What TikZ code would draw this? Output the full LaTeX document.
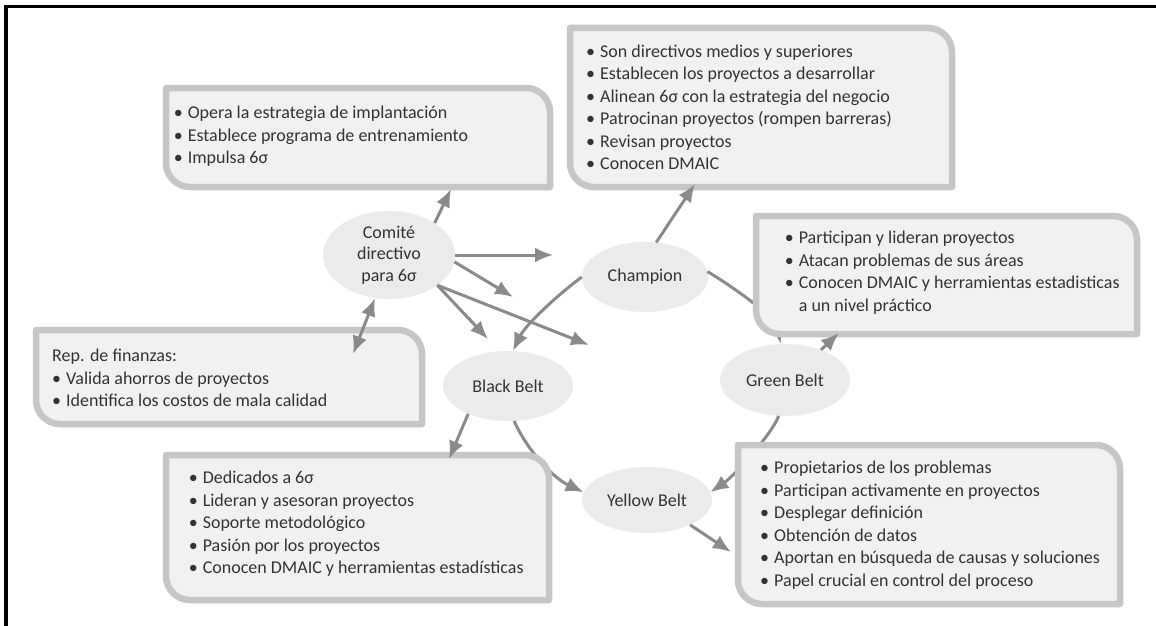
\documentclass[tikz,border=0pt]{standalone}
\usepackage{fontspec}
\setmainfont{Carlito}
\usetikzlibrary{arrows.meta,shapes.geometric,calc}

\definecolor{boxfill}{HTML}{F1F1F1}
\definecolor{boxline}{HTML}{C6C6C6}
\definecolor{ovalfill}{HTML}{EBEBEB}
\definecolor{arrowc}{HTML}{8A8A8A}
\definecolor{ink}{HTML}{333333}

% bullet followed by the item text
\newcommand\itm{\makebox[14pt][l]{•}}
% corner radius of the info boxes
\newcommand\boxr{24}

% info box: rounded top-right and bottom-left corners
\newcommand\infobox[5]{%
  \node[boxarea, minimum width={(#4)-(#2)}, minimum height={(#5)-(#3)}]
    (#1) at ({((#2)+(#4))/2},{((#3)+(#5))/2}) {};
  \draw[boxframe] (#1.north west) -- ($(#1.north east)+(-\boxr,0)$)
    arc[start angle=-90,end angle=0,radius=\boxr] -- (#1.south east)
    -- ($(#1.south west)+(\boxr,0)$)
    arc[start angle=90,end angle=180,radius=\boxr] -- cycle;}

\tikzset{
  boxarea/.style={rectangle, draw=none, inner sep=0pt, outer sep=0pt},
  boxframe/.style={draw=boxline, fill=boxfill, line width=6.5pt, line join=round},
  textblock/.style={anchor=north west, inner sep=0pt, align=left, text=ink,
    font=\fontsize{18}{22.5}\selectfont},
  oval/.style={ellipse, fill=ovalfill, draw=none, inner sep=0pt, text=ink,
    font=\fontsize{18}{21.5}\selectfont, align=center},
  conn/.style={draw=arrowc, line width=3pt, ->},
  >={Latex[length=18pt,width=15pt]},
}

\begin{document}
\begin{tikzpicture}[x=1pt,y=-1pt]
\useasboundingbox (0,0) rectangle (1156,626);
\fill[white] (0,0) rectangle (1156,626);

% frame along the top and left edges
\draw[line width=3.5pt, black, line join=miter] (6,626) -- (6,6.5) -- (1156,6.5);

% roles
\node[oval, minimum width=132pt, minimum height=88pt] (comite) at (389,255) {Comité\\directivo\\para 6σ};
\node[oval, minimum width=126pt, minimum height=70pt] (champ) at (645,277) {Champion};
\node[oval, minimum width=130pt, minimum height=70pt] (black) at (508,386) {Black Belt};
\node[oval, minimum width=130pt, minimum height=72pt] (green) at (785,380) {Green Belt};
\node[oval, minimum width=130pt, minimum height=66pt] (yellow) at (647,500) {Yellow Belt};

% curved links that run behind the boxes
\draw[conn] (champ.5) .. controls (735,288) and (776,318) .. (green.97);
\draw[conn] (black.-80) .. controls (527,450) and (553,478) .. (yellow.173);
\draw[conn] (green.-100) .. controls (772,434) and (734,476) .. (yellow.7);

% info boxes
\infobox{b1}{166}{88}{550}{187}
\node[textblock] (t1) at (173.6,106) {\itm Opera la estrategia de implantación\\
  \itm Establece programa de entrenamiento\\
  \itm Impulsa 6σ};

\infobox{b2}{570}{28}{952}{187}
\node[textblock] (t2) at (586,44.5) {\itm Son directivos medios y superiores\\
  \itm Establecen los proyectos a desarrollar\\
  \itm Alinean 6σ con la estrategia del negocio\\
  \itm Patrocinan proyectos (rompen barreras)\\
  \itm Revisan proyectos\\
  \itm Conocen DMAIC};

\infobox{b3}{756}{216}{1137}{334}
\node[textblock] (t3) at (784.6,231) {\itm Participan y lideran proyectos\\
  \itm Atacan problemas de sus áreas\\
  \itm Conocen DMAIC y herramientas estadisticas\\
  \hspace*{14pt}a un nivel práctico};

\infobox{b4}{36}{330}{422}{424}
\node[textblock] (t4) at (52,349) {Rep. de finanzas:\\
  \itm Valida ahorros de proyectos\\
  \itm Identifica los costos de mala calidad};

\infobox{b5}{166}{455}{549}{600}
\node[textblock] (t5) at (188.6,471) {\itm Dedicados a 6σ\\
  \itm Lideran y asesoran proyectos\\
  \itm Soporte metodológico\\
  \itm Pasión por los proyectos\\
  \itm Conocen DMAIC y herramientas estadísticas};

\infobox{b6}{738}{445}{1120}{604}
\node[textblock] (t6) at (760,461) {\itm Propietarios de los problemas\\
  \itm Participan activamente en proyectos\\
  \itm Desplegar definición\\
  \itm Obtención de datos\\
  \itm Aportan en búsqueda de causas y soluciones\\
  \itm Papel crucial en control del proceso};

% arrow ends on the boxes and in open space
\coordinate (a1) at (451,189);
\coordinate (a2) at (553,255);
\coordinate (a3) at (513,297);
\coordinate (a4) at (488,339);
\coordinate (a5) at (589,345);
\coordinate (a7) at (695,184);
\coordinate (a9) at (839,333);
\coordinate (a10) at (353,354);
\coordinate (a11) at (449,459);
\coordinate (a14) at (731,552);

\draw[conn] (comite.35) -- (a1);
\draw[conn] (comite.east) -- (a2);
\draw[conn] (comite.-6) -- (a3);
\draw[conn] (comite.-32) -- (a4);
\draw[conn] (comite.-32) -- (a5);
\draw[conn] (champ.west) .. controls (560,293) and (526,324) .. (black.82);
\draw[conn] (champ.72) -- (a7);
\draw[conn] (green.40) -- (a9);
\draw[conn, <->] (comite.-108) -- (a10);
\draw[conn] (black.-145) -- (a11);
\draw[conn] (yellow.-30) -- (a14);
\end{tikzpicture}
\end{document}
